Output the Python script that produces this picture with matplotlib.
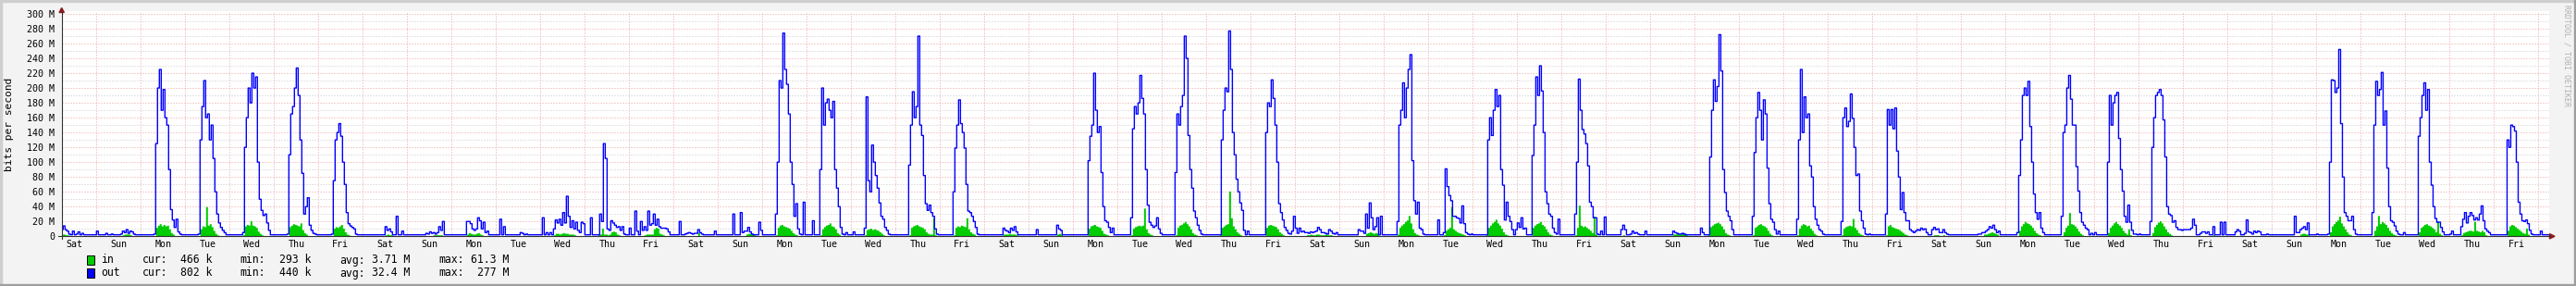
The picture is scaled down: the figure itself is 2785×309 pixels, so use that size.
import numpy as np
import matplotlib
matplotlib.use('Agg')
import matplotlib.pyplot as plt
from matplotlib.ticker import MultipleLocator
from matplotlib.patches import Rectangle, Polygon
from matplotlib.lines import Line2D

W, H = 2785, 309
MONO = 'DejaVu Sans Mono'

# time axis in days, 0 = first Sunday 00:00
week = ['Sun', 'Mon', 'Tue', 'Wed', 'Thu', 'Fri', 'Sat']
first_day = -1
t_start = -0.783
t_end = 55.24

# hourly traffic in Mbit/s, one string per day (first Saturday .. last Saturday)
out_hourly = [
    "5 5 5 5 5 9 14 9 7 3 2 7 2 3 6 2 4 2 2 2 2 2 2 2",
    "7 2 2 2 2 4 2 2 3 2 2 2 2 3 7 5 9 4 7 6 3 2 2 2",
    "2 2 2 2 2 2 2 3 125 200 225 170 198 160 150 90 36 22 12 23 6 3 2 2",
    "2 2 2 2 2 2 2 3 130 175 210 160 165 130 150 105 60 30 18 12 8 5 2 2",
    "2 2 2 2 2 2 2 5 120 160 200 180 220 200 215 100 50 35 28 30 18 8 2 2",
    "2 2 2 2 2 2 2 3 110 165 175 200 227 190 130 85 30 40 52 15 8 4 3 2",
    "2 2 2 2 2 2 2 3 75 130 140 152 135 100 70 32 17 14 12 10 3 2 2 2",
    "2 2 2 2 2 2 2 2 2 2 2 2 13 8 10 6 2 2 27 2 2 7 2 2",
    "2 2 2 2 2 2 2 2 2 2 4 3 6 4 5 3 5 13 8 20 2 2 2 2",
    "2 2 2 2 2 2 2 2 20 20 17 10 8 10 25 21 10 19 5 7 2 2 2 2",
    "2 2 23 2 13 2 2 2 2 2 2 2 2 5 4 2 3 2 2 2 2 2 2 2",
    "2 25 2 5 2 5 2 10 22 18 23 15 32 18 54 27 12 21 10 19 8 5 19 17",
    "2 2 2 25 2 2 2 2 30 20 125 105 10 8 21 18 15 12 13 8 13 3 2 2",
    "11 2 2 34 7 2 20 8 13 8 34 15 17 30 15 23 13 11 11 11 10 6 2 2",
    "2 2 2 20 2 2 3 4 5 4 3 4 4 9 5 3 2 2 2 2 2 2 7 2",
    "2 2 2 2 2 2 2 2 30 2 2 2 32 5 7 7 12 6 3 2 2 2 19 8",
    "2 2 2 2 2 2 2 30 100 210 200 274 225 205 165 100 70 27 44 10 3 2 46 2",
    "2 2 2 21 2 2 2 90 200 150 180 185 170 160 182 90 65 40 12 3 2 5 2 2",
    "2 6 2 2 2 2 2 11 188 75 60 123 100 82 65 45 27 23 12 8 3 2 2 2",
    "2 2 2 2 2 2 2 96 150 195 160 175 270 150 136 82 44 35 42 32 27 10 3 2",
    "2 2 2 2 2 2 2 60 119 150 184 152 140 119 70 34 32 27 20 12 3 2 2 2",
    "2 2 2 2 2 2 2 2 2 2 11 8 7 5 11 8 13 6 2 2 2 2 2 2",
    "2 2 2 2 9 2 2 2 2 2 2 2 2 2 2 15 10 8 2 2 2 2 2 2",
    "2 2 2 2 2 2 2 2 102 135 150 220 170 140 148 86 40 21 19 12 5 11 2 2",
    "2 2 2 2 2 2 2 25 145 175 165 180 217 186 165 90 42 19 15 12 14 25 10 4",
    "2 2 2 2 2 2 2 86 165 150 175 190 270 240 136 90 65 34 25 15 8 3 2 2",
    "2 2 2 2 2 2 2 2 130 170 200 195 277 225 140 110 77 60 45 35 8 2 7 2",
    "2 2 2 2 2 2 2 2 140 180 175 211 186 150 100 44 32 22 12 8 4 3 7 27",
    "11 4 11 6 7 5 5 4 6 5 6 7 12 9 5 5 4 3 9 7 4 3 5 2",
    "2 2 2 2 2 2 2 2 2 2 9 7 7 4 30 11 45 25 9 13 25 2 27 2",
    "2 2 2 2 2 2 2 20 150 170 207 160 200 225 245 102 48 30 46 11 9 3 2 2",
    "2 2 2 2 2 22 2 2 5 91 67 55 48 27 27 25 24 18 41 17 5 3 2 3",
    "2 2 2 2 2 2 2 2 130 160 136 170 198 175 190 90 69 22 46 27 20 9 2 9",
    "18 12 25 10 11 2 2 2 109 150 215 190 230 196 140 60 44 30 27 11 5 3 23 2",
    "2 2 2 2 2 2 2 30 100 212 170 144 138 125 95 46 40 25 25 3 2 7 2 26",
    "2 2 2 2 2 2 2 2 9 15 9 2 2 3 7 4 5 3 2 2 2 7 2 2",
    "2 2 2 2 2 2 2 2 2 2 2 2 7 5 4 3 3 4 3 2 2 2 2 2",
    "2 2 2 11 5 2 2 2 107 170 211 182 202 272 223 90 59 34 27 21 9 2 2 2",
    "2 2 2 2 2 2 2 27 113 160 194 170 130 184 165 92 44 23 19 9 3 7 2 2",
    "2 2 2 2 2 2 2 23 130 225 140 188 160 165 95 80 40 23 15 9 7 3 2 2",
    "2 2 2 2 2 2 2 20 160 173 148 155 192 159 120 82 84 34 21 11 3 2 3 2",
    "2 2 2 2 2 2 2 30 171 150 171 145 173 115 80 36 59 32 21 21 9 7 5 7",
    "9 8 11 9 10 5 2 2 9 12 9 10 5 5 9 5 3 2 2 2 2 2 2 2",
    "2 2 2 2 2 2 2 2 2 3 3 5 5 7 9 13 11 15 9 5 7 2 2 2",
    "2 2 2 2 2 2 5 82 130 190 200 190 209 148 100 57 32 23 32 11 5 2 2 2",
    "2 2 2 2 2 2 27 140 150 200 217 185 150 150 94 61 32 19 15 11 9 2 4 2",
    "5 2 2 2 2 2 2 100 190 150 180 190 194 132 90 61 27 19 42 19 8 3 3 2",
    "3 2 2 2 2 2 20 120 160 190 194 198 190 157 107 40 30 28 19 21 12 9 9 8",
    "9 9 9 9 11 23 15 2 2 4 6 6 4 6 2 2 13 2 2 2 19 2 19 2",
    "2 2 2 2 6 9 7 2 2 4 22 6 5 3 7 5 7 6 2 2 2 3 2 2",
    "2 2 2 2 2 2 2 2 2 2 2 2 27 5 5 9 11 13 9 18 2 2 2 2",
    "3 2 2 2 2 2 3 100 211 210 194 200 252 152 80 32 27 21 21 27 9 3 2 2",
    "2 2 2 2 2 2 32 150 209 190 198 221 150 169 92 40 21 19 14 7 3 2 2 5",
    "2 2 2 2 2 2 2 135 160 190 207 170 198 100 69 40 24 19 19 12 6 2 2 2",
    "3 7 2 2 2 2 13 23 32 18 27 32 28 22 25 22 30 41 21 10 7 5 2 2",
    "2 2 2 2 2 2 2 130 120 150 148 142 100 46 30 21 20 22 17 8 3 2 2 2",
    "2 7 2 2 2 2",
]

in_hourly = [
    "1 1 1 1 1 3 3 2 2 1 1 1 1 1 1 1 1 1 1 0.5 0.5 0.5 0.5 0.5",
    "0.5 0.5 0.5 0.5 0.5 0.5 0.5 0.5 0.5 0.5 0.5 0.5 0.5 1 2 3 3 3 2 1 0.5 0.5 0.5 0.5",
    "0.5 0.5 0.5 0.5 0.5 0.5 0.5 1 12 15 17 14 16 14 15 10 5 3 1 1 0.5 0.5 0.5 0.5",
    "0.5 0.5 0.5 0.5 0.5 0.5 0.5 1 10 14 13 40 15 17 13 8 4 2 1 1 0.5 0.5 0.5 0.5",
    "0.5 0.5 0.5 0.5 0.5 0.5 0.5 2 14 16 15 21 15 14 12 7 4 2 1 1 0.5 0.5 0.5 0.5",
    "0.5 0.5 0.5 0.5 0.5 0.5 0.5 1 13 15 17 16 15 14 18 9 5 3 1 1 0.5 0.5 0.5 0.5",
    "0.5 0.5 0.5 0.5 0.5 0.5 0.5 1 11 13 12 14 16 11 6 3 2 1 1 0.5 0.5 0.5 0.5 0.5",
    "0.5 0.5 0.5 0.5 0.5 0.5 0.5 0.5 0.5 0.5 0.5 1 2 3 2 2 1 1 1 0.5 0.5 0.5 0.5 0.5",
    "0.5 0.5 0.5 0.5 0.5 0.5 0.5 0.5 0.5 0.5 0.5 0.5 0.5 0.5 2 2 2 2 2 1 0.5 0.5 0.5 0.5",
    "0.5 0.5 0.5 0.5 0.5 0.5 0.5 0.5 3 5 4 3 3 4 5 3 2 1 1 0.5 0.5 0.5 0.5 0.5",
    "0.5 0.5 1 0.5 1 0.5 0.5 0.5 0.5 0.5 0.5 0.5 0.5 1 1 0.5 0.5 0.5 0.5 0.5 0.5 0.5 0.5 0.5",
    "1 1 1 1 1 1 1 2 4 4 3 4 5 4 4 3 3 3 2 1 1 1 1 1",
    "0.5 0.5 0.5 0.5 0.5 0.5 0.5 2 3 11 3 3 2 3 6 7 6 3 2 1 1 0.5 0.5 0.5",
    "0.5 0.5 0.5 0.5 0.5 0.5 0.5 1 2 3 3 3 3 10 12 11 4 3 2 1 0.5 0.5 0.5 0.5",
    "0.5 0.5 0.5 0.5 0.5 0.5 0.5 0.5 0.5 0.5 0.5 0.5 1 5 1 0.5 0.5 0.5 0.5 0.5 0.5 0.5 0.5 0.5",
    "0.5 0.5 0.5 0.5 0.5 0.5 0.5 0.5 0.5 0.5 0.5 0.5 0.5 0.5 1 3 4 4 3 2 0.5 0.5 0.5 0.5",
    "0.5 0.5 0.5 0.5 0.5 0.5 0.5 2 12 15 16 14 13 12 11 8 5 3 2 1 0.5 0.5 0.5 0.5",
    "0.5 0.5 0.5 0.5 0.5 0.5 0.5 2 10 13 15 16 18 14 13 10 5 3 1 1 0.5 0.5 0.5 0.5",
    "0.5 0.5 0.5 0.5 0.5 0.5 0.5 2 9 10 11 9 10 9 8 6 4 2 1 1 0.5 0.5 0.5 0.5",
    "0.5 0.5 0.5 0.5 0.5 0.5 0.5 2 12 14 15 16 14 13 12 10 6 4 3 3 25 2 0.5 0.5",
    "0.5 0.5 0.5 0.5 0.5 0.5 0.5 2 12 14 13 15 14 13 25 10 6 4 3 1 0.5 0.5 0.5 0.5",
    "0.5 0.5 0.5 0.5 0.5 0.5 0.5 0.5 0.5 0.5 3 3 3 4 3 3 3 2 0.5 0.5 0.5 0.5 0.5 0.5",
    "0.5 0.5 0.5 0.5 0.5 0.5 0.5 0.5 0.5 0.5 0.5 0.5 0.5 0.5 0.5 3 4 3 0.5 0.5 0.5 0.5 0.5 0.5",
    "0.5 0.5 0.5 0.5 0.5 0.5 0.5 1 11 14 15 16 14 13 12 8 4 3 2 1 0.5 0.5 0.5 0.5",
    "0.5 0.5 0.5 0.5 0.5 0.5 0.5 2 11 13 14 15 14 15 38 10 5 3 2 1 0.5 0.5 0.5 0.5",
    "0.5 0.5 0.5 0.5 0.5 0.5 0.5 2 12 15 16 18 20 17 14 10 5 3 2 1 0.5 0.5 0.5 0.5",
    "0.5 0.5 0.5 0.5 0.5 0.5 0.5 2 12 14 16 17 61 25 14 10 6 4 2 1 0.5 0.5 0.5 0.5",
    "0.5 0.5 0.5 0.5 0.5 0.5 0.5 1 12 15 16 15 14 13 10 6 4 2 1 1 0.5 0.5 0.5 0.5",
    "0.5 0.5 0.5 0.5 0.5 0.5 2 2 3 2 2 3 3 2 2 2 3 2 2 2 1 0.5 0.5 0.5",
    "0.5 0.5 0.5 0.5 0.5 0.5 0.5 0.5 0.5 0.5 0.5 0.5 0.5 0.5 4 5 6 5 4 5 4 0.5 0.5 0.5",
    "0.5 0.5 0.5 0.5 0.5 0.5 0.5 3 12 15 17 20 22 28 18 10 5 3 2 1 0.5 0.5 0.5 0.5",
    "0.5 0.5 0.5 0.5 0.5 0.5 0.5 1 2 8 10 12 40 10 8 6 5 4 3 2 0.5 0.5 0.5 0.5",
    "0.5 0.5 0.5 0.5 0.5 0.5 0.5 2 12 15 18 20 23 18 15 11 6 3 2 1 0.5 0.5 0.5 0.5",
    "0.5 0.5 0.5 0.5 0.5 0.5 0.5 1 12 15 17 18 20 16 14 10 6 3 2 1 0.5 0.5 0.5 0.5",
    "0.5 0.5 0.5 0.5 0.5 0.5 0.5 2 12 42 15 13 14 12 10 8 5 27 3 1 0.5 0.5 0.5 0.5",
    "0.5 0.5 0.5 0.5 0.5 0.5 0.5 0.5 1 2 1 1 0.5 0.5 0.5 0.5 0.5 0.5 0.5 0.5 0.5 0.5 0.5 0.5",
    "0.5 0.5 0.5 0.5 0.5 0.5 0.5 0.5 0.5 0.5 0.5 0.5 3 3 4 3 3 4 3 2 0.5 0.5 0.5 0.5",
    "0.5 0.5 0.5 0.5 0.5 0.5 0.5 2 13 15 17 18 19 17 14 10 5 3 2 1 0.5 0.5 0.5 0.5",
    "0.5 0.5 0.5 0.5 0.5 0.5 0.5 2 12 14 16 17 15 14 12 8 4 2 1 1 0.5 0.5 0.5 0.5",
    "0.5 0.5 0.5 0.5 0.5 0.5 0.5 2 11 15 17 16 14 15 11 8 4 2 1 1 0.5 0.5 0.5 0.5",
    "0.5 0.5 0.5 0.5 0.5 0.5 0.5 2 11 13 14 15 14 24 12 9 5 3 2 1 0.5 0.5 0.5 0.5",
    "0.5 0.5 0.5 0.5 0.5 0.5 0.5 2 14 16 13 12 11 10 9 7 5 3 2 1 0.5 0.5 0.5 0.5",
    "1 1 1 1 1 0.5 0.5 0.5 1 2 2 2 1 1 2 1 0.5 0.5 0.5 0.5 0.5 0.5 0.5 0.5",
    "0.5 0.5 0.5 0.5 0.5 0.5 0.5 0.5 0.5 0.5 0.5 0.5 3 3 4 5 6 5 4 3 0.5 0.5 0.5 0.5",
    "0.5 0.5 0.5 0.5 0.5 0.5 0.5 8 14 17 20 18 17 15 12 8 5 3 2 1 0.5 0.5 0.5 0.5",
    "0.5 0.5 0.5 0.5 0.5 0.5 0.5 6 12 15 32 17 16 14 11 7 4 2 1 1 0.5 0.5 0.5 0.5",
    "0.5 0.5 0.5 0.5 0.5 0.5 0.5 5 12 15 18 20 17 15 12 8 5 3 10 2 0.5 0.5 0.5 0.5",
    "0.5 0.5 0.5 0.5 0.5 0.5 0.5 5 13 16 19 21 18 14 10 6 4 2 1 1 0.5 0.5 0.5 0.5",
    "1 1 1 1 1 1 1 1 1 1 1 1 1 1 1 1 2 1 1 1 1 1 1 1",
    "0.5 0.5 0.5 0.5 0.5 1 1 0.5 0.5 0.5 1 1 0.5 0.5 1 0.5 1 0.5 0.5 0.5 0.5 0.5 0.5 0.5",
    "0.5 0.5 0.5 0.5 0.5 0.5 0.5 0.5 0.5 0.5 0.5 0.5 1 1 1 3 4 4 3 3 0.5 0.5 0.5 0.5",
    "0.5 0.5 0.5 0.5 0.5 0.5 0.5 6 14 17 20 22 27 18 14 10 6 3 2 1 0.5 0.5 0.5 0.5",
    "0.5 0.5 0.5 0.5 0.5 0.5 0.5 8 14 28 17 20 18 16 12 8 5 3 2 1 0.5 0.5 0.5 0.5",
    "0.5 0.5 0.5 0.5 0.5 0.5 0.5 6 12 14 16 17 15 14 12 10 6 21 4 2 0.5 0.5 0.5 0.5",
    "0.5 0.5 0.5 0.5 0.5 0.5 2 5 6 7 8 8 7 20 8 7 6 8 6 2 1 0.5 0.5 0.5",
    "0.5 0.5 0.5 0.5 0.5 0.5 0.5 8 14 16 15 13 11 9 7 5 4 11 3 1 0.5 0.5 0.5 0.5",
    "0.5 1 0.5 0.5 0.5 0.5",
]

y_ticks = list(range(0, 301, 20))
y_labels = ['0'] + ['%d M' % v for v in y_ticks[1:]]

legend_names = ['in', 'out']
legend_colors = ['#00cc00', '#0000ff']
cur_vals = ['466 k', '802 k']
min_vals = ['293 k', '440 k']
avg_vals = ['3.71 M', '32.4 M']
max_vals = ['61.3 M', '277 M']


def series(rows):
    ts, vs = [], []
    for i, row in enumerate(rows):
        v = [float(s) for s in row.split()]
        if i < len(rows) - 1 and len(v) != 24:
            print('row', i, 'has', len(v), 'values')
        ts.append(first_day + i + np.arange(len(v)) / 24.0)
        vs.append(v)
    t = np.concatenate(ts)
    v = np.concatenate(vs)
    return np.append(t, t[-1] + 1 / 24.0), np.append(v, v[-1])


t_out, v_out = series(out_hourly)
t_in, v_in = series(in_hourly)


def fx(x):
    return x / W


def fy(y):
    return 1 - y / H


fig = plt.figure(figsize=(W / 100, H / 100), dpi=100, facecolor='#f3f3f3')

x0, x1, y0, ytop = 66.7, 2756.0, 255.3, 12.0
ax = fig.add_axes([fx(x0), fy(y0), (x1 - x0) / W, (y0 - ytop) / H])
ax.set_facecolor('white')
ax.set_xlim(t_start, t_end)
ax.set_ylim(0, 300 * (y0 - ytop) / (y0 - 15.0))
for s in ax.spines.values():
    s.set_visible(False)

# grid: day boundaries and 20M steps pink, 10M steps grey
days = np.arange(first_day + 1, int(t_end) + 1)
ax.set_xticks(days)
ax.set_xticklabels([])
noons = np.arange(first_day, int(t_end)) + 0.5
ax.set_xticks(noons, minor=True)
ax.set_xticklabels([week[d % 7] for d in range(first_day, int(t_end))], minor=True,
                   fontsize=7.2, family=MONO)
ax.set_yticks(y_ticks)
ax.set_yticklabels(y_labels, fontsize=7.2, family=MONO)
ax.yaxis.set_minor_locator(MultipleLocator(10))
ax.tick_params(which='both', length=0)
ax.tick_params(axis='y', pad=5.3)
ax.tick_params(axis='x', which='minor', pad=2.5)
ax.set_axisbelow(True)
ax.grid(which='minor', axis='y', color='#c8c8c8', lw=0.72, ls=(0, (1, 2)))
ax.grid(which='major', axis='both', color='#eda0a0', lw=0.72, ls=(0, (1, 2)))

ax.fill_between(t_in, 0, v_in, step='post', color='#00cc00', lw=0, zorder=2)
ax.plot(t_out, v_out, drawstyle='steps-post', color='#0000ff', lw=1.0, zorder=3)

# axes and arrows
axis_col = '#333333'
arrow_col = '#8b1c1c'
fig.add_artist(Line2D([fx(x0), fx(x0)], [fy(258), fy(13)], color=axis_col, lw=0.8))
fig.add_artist(Line2D([fx(63), fx(2757)], [fy(y0), fy(y0)], color=axis_col, lw=0.8))
fig.add_artist(Polygon([[fx(64.0), fy(13.5)], [fx(69.4), fy(13.5)], [fx(x0), fy(8.5)]],
                       closed=True, color=arrow_col, transform=fig.transFigure))
fig.add_artist(Polygon([[fx(2756.5), fy(252.6)], [fx(2756.5), fy(258.0)], [fx(2762), fy(y0)]],
                       closed=True, color=arrow_col, transform=fig.transFigure))

# shaded frame
fig.add_artist(Rectangle((0, fy(2)), 1, 2 / H, color='#cfcfcf', transform=fig.transFigure))
fig.add_artist(Rectangle((0, 0), fx(2), 1, color='#cfcfcf', transform=fig.transFigure))
fig.add_artist(Rectangle((0, 0), 1, 2 / H, color='#9e9e9e', transform=fig.transFigure))
fig.add_artist(Rectangle((fx(W - 2), 0), 2 / W, 1, color='#9e9e9e', transform=fig.transFigure))

fig.text(fx(10), fy(134), 'bits per second', rotation=90, ha='center', va='center',
         fontsize=8.1, family=MONO)
fig.text(fx(2775), fy(60), 'RRDTOOL / TOBI OETIKER', rotation=270, ha='center', va='center',
         fontsize=6, family=MONO, color='#b0b0b0')

# legend
row_y = [281.0, 295.0]
for i in range(2):
    yc = row_y[i]
    fig.add_artist(Rectangle((fx(94.3), fy(yc + 4.8)), 8 / W, 9.6 / H, facecolor=legend_colors[i],
                             edgecolor='black', lw=0.7, transform=fig.transFigure))
    kw = dict(fontsize=8.3, family=MONO, va='center')
    fig.text(fx(109.3), fy(yc), legend_names[i], ha='left', **kw)
    fig.text(fx(153.7), fy(yc), 'cur:', ha='left', **kw)
    fig.text(fx(229.3), fy(yc), cur_vals[i], ha='right', **kw)
    fig.text(fx(259.7), fy(yc), 'min:', ha='left', **kw)
    fig.text(fx(336.0), fy(yc), min_vals[i], ha='right', **kw)
    fig.text(fx(367.3), fy(yc), 'avg:', ha='left', **kw)
    fig.text(fx(443.3), fy(yc), avg_vals[i], ha='right', **kw)
    fig.text(fx(474.0), fy(yc), 'max:', ha='left', **kw)
    fig.text(fx(550.4), fy(yc), max_vals[i], ha='right', **kw)

fig.savefig('out.png', dpi=100, facecolor=fig.get_facecolor())
